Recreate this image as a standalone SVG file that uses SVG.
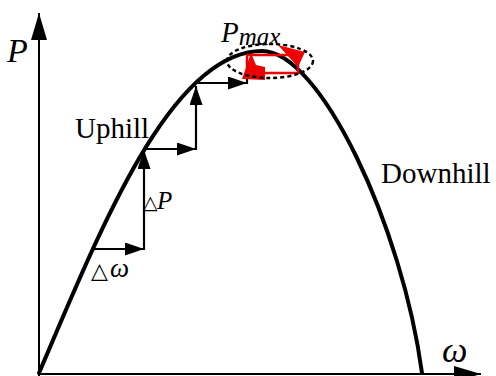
<svg xmlns="http://www.w3.org/2000/svg" width="496" height="376" viewBox="0 0 496 376">
  <style>
    .axis { stroke: #000; stroke-width: 2; fill: none; }
    .curve { stroke: #000; stroke-width: 4; fill: none; stroke-linecap: round; }
    .step { stroke: #000; stroke-width: 2.2; fill: none; }
    .red { stroke: #ee0000; stroke-width: 2.4; fill: none; }
    .lbl { font-family: "Liberation Serif", "Times New Roman", serif; fill: #000; }
    .it { font-style: italic; }
    .tri { font-family: "DejaVu Sans", sans-serif; fill: #000; }
  </style>
  <defs>
    <marker id="axisHead" markerUnits="userSpaceOnUse" markerWidth="28" markerHeight="16" refX="27" refY="8" orient="auto">
      <path d="M0,0 L27,8 L0,16 z" fill="#000"/>
    </marker>
    <marker id="head" markerUnits="userSpaceOnUse" markerWidth="20" markerHeight="13" refX="19" refY="6.5" orient="auto">
      <path d="M0,0 L19,6.5 L0,13 z" fill="#000"/>
    </marker>
  </defs>
  <rect width="496" height="376" fill="#fff"/>

  <g id="axes">
    <line class="axis" x1="39" y1="376" x2="39" y2="13" marker-end="url(#axisHead)"/>
    <line class="axis" x1="38" y1="374" x2="481" y2="374" marker-end="url(#axisHead)"/>
  </g>

  <g id="power-curve">
    <path class="curve" d="M39,373 C99,233 170,51 262,51 C320,51 402,225 422,373"/>
  </g>

  <g id="connectors">
    <line class="step" x1="91" y1="249" x2="144" y2="249" marker-end="url(#head)"/>
    <line class="step" x1="144" y1="250" x2="144" y2="150" marker-end="url(#head)"/>
    <line class="step" x1="143" y1="149" x2="196" y2="149" marker-end="url(#head)"/>
    <line class="step" x1="196" y1="150" x2="196" y2="86" marker-end="url(#head)"/>
    <line class="step" x1="195" y1="83" x2="247" y2="83" marker-end="url(#head)"/>
    <line class="step" x1="247" y1="84" x2="247" y2="72"/>
  </g>

  <g id="oscillation">
    <polyline class="red" points="247,73 247,55 298,55 298,73 262,73"/>
    <polygon points="278,45 305,52 298,67" fill="#ee0000"/>
    <polygon points="251,53 242,79 265,80 265,67 256,65" fill="#ee0000"/>
    <ellipse cx="270" cy="61" rx="43" ry="17" fill="none" stroke="#000" stroke-width="2.4" stroke-dasharray="4 3"/>
  </g>

  <g id="labels">
    <text class="lbl it" x="7" y="62" font-size="34">P</text>
    <text class="lbl it" x="442" y="362" font-size="36">ω</text>
    <text class="lbl" x="221" y="42" font-size="29"><tspan class="it">P</tspan><tspan class="it" font-size="25" dy="3">max</tspan></text>
    <text class="lbl" x="75" y="138" font-size="29">Uphill</text>
    <text class="lbl" x="381" y="183" font-size="29">Downhill</text>
    <text class="tri" x="143" y="209" font-size="19">△</text>
    <text class="lbl it" x="157" y="209" font-size="25">P</text>
    <text class="tri" x="91" y="278" font-size="22">△</text>
    <text class="lbl it" x="110" y="277" font-size="27">ω</text>
  </g>
</svg>
